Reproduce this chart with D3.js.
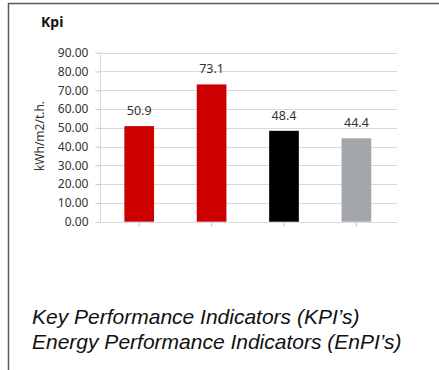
<!DOCTYPE html>
<html>
<head>
<meta charset="utf-8">
<script src="https://cdn.jsdelivr.net/npm/d3@7/dist/d3.min.js"></script>
<style>
  html, body { margin: 0; padding: 0; background: #fff; }
  svg { display: block; }
</style>
</head>
<body>
<svg id="chart" width="439" height="370"></svg>
<script>
// Indicator values (kWh/m2/t.h.)
const categories = ["KPI 1", "KPI 2", "KPI 3", "KPI 4"];
const values = [50.9, 73.1, 48.4, 44.4];
const barColors = ["#cc0000", "#cc0000", "#000000", "#a2a6ab"];
const yTicks = [0, 10, 20, 30, 40, 50, 60, 70, 80, 90];
const chartTitle = "Kpi";
const yAxisTitle = "kWh/m2/t.h.";
const captionLines = [
  "Key Performance Indicators (KPI\u2019s)",
  "Energy Performance Indicators (EnPI\u2019s)"
];

const svg = d3.select("#chart");
const uiFont = "'Noto Sans', 'Open Sans', sans-serif";

// Frame: top and left rules
svg.append("line").attr("x1", 8).attr("x2", 439).attr("y1", 3.5).attr("y2", 3.5)
  .attr("stroke", "#5a5a5a").attr("stroke-width", 1.5);
svg.append("line").attr("x1", 8.5).attr("x2", 8.5).attr("y1", 3).attr("y2", 370)
  .attr("stroke", "#5a5a5a").attr("stroke-width", 1.5);

// Scales
const plotLeft = 100, plotRight = 397;
const y = d3.scaleLinear().domain([0, 90]).range([221.7, 52.7]);
const x = d3.scaleBand().domain(categories).range([103, 392.6])
  .paddingInner(0.59).paddingOuter(0.295);

// Horizontal gridlines
svg.append("g").selectAll("line").data(yTicks).join("line")
  .attr("x1", plotLeft).attr("x2", plotRight)
  .attr("y1", d => Math.round(y(d)) + 0.5).attr("y2", d => Math.round(y(d)) + 0.5)
  .attr("stroke", "#d9d9d9").attr("stroke-width", 1);

// Y axis
const yAxis = svg.append("g").attr("transform", `translate(${plotLeft + 0.5},0)`)
  .call(d3.axisLeft(y).tickValues(yTicks).tickFormat(d3.format(".2f"))
    .tickSize(5).tickPadding(7));
yAxis.select(".domain").attr("stroke", "#d9d9d9").attr("d",
  `M0,${y(90)}V${y(0)}`);
yAxis.selectAll(".tick line").attr("stroke", "#c8c8c8");
yAxis.selectAll(".tick text").attr("fill", "#333").style("font-family", uiFont)
  .style("font-size", "12px");

// X axis: ticks only, at category centres
const xAxis = svg.append("g").attr("transform", `translate(0,${y(0)})`)
  .call(d3.axisBottom(x).tickSize(5).tickFormat(""));
xAxis.select(".domain").remove();
xAxis.selectAll(".tick line").attr("stroke", "#c8c8c8");

// Bars
svg.append("g").selectAll("rect").data(values).join("rect")
  .attr("x", (d, i) => x(categories[i]))
  .attr("width", x.bandwidth())
  .attr("y", d => y(d))
  .attr("height", d => y(0) - y(d))
  .attr("fill", (d, i) => barColors[i]);

// Value labels
svg.append("g").selectAll("text").data(values).join("text")
  .attr("x", (d, i) => x(categories[i]) + x.bandwidth() / 2)
  .attr("y", d => y(d) - 11)
  .attr("text-anchor", "middle")
  .attr("fill", "#333")
  .style("font-family", uiFont).style("font-size", "12.5px")
  .text(d => d3.format(".1f")(d));

// Chart title
svg.append("text").attr("x", 41).attr("y", 27)
  .style("font-family", uiFont).style("font-size", "14px").style("font-weight", "bold")
  .attr("fill", "#111").text(chartTitle);

// Y axis title
svg.append("text").attr("transform", "translate(44,136) rotate(-90)")
  .attr("text-anchor", "middle").attr("fill", "#333")
  .style("font-family", uiFont).style("font-size", "12px")
  .text(yAxisTitle);

// Caption
svg.append("g").selectAll("text").data(captionLines).join("text")
  .attr("x", 32)
  .attr("y", (d, i) => 324 + i * 24.5)
  .attr("fill", "#111")
  .style("font-family", "'Liberation Sans', Arial, sans-serif")
  .style("font-style", "italic").style("font-size", "21px")
  .text(d => d);
</script>
</body>
</html>
